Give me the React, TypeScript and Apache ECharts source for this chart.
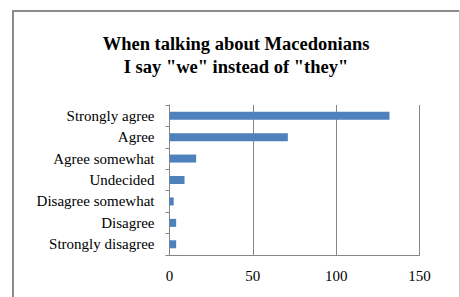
import React, { useEffect, useRef } from "react";
import * as echarts from "echarts";

const categories = [
  "Strongly agree",
  "Agree",
  "Agree somewhat",
  "Undecided",
  "Disagree somewhat",
  "Disagree",
  "Strongly disagree",
];
const values = [132, 71, 16, 9, 2.5, 4, 4];
const xTicks = [0, 50, 100, 150];

const FONT = "Liberation Serif";

export default function App() {
  const ref = useRef<HTMLDivElement>(null);
  useEffect(() => {
    document.body.style.margin = "0";
    const chart = echarts.init(ref.current!, null, { renderer: "svg" });
    chart.setOption({
      animation: false,
      backgroundColor: "#ffffff",
      title: {
        text: 'When talking about Macedonians\nI say "we" instead of "they"',
        left: 231,
        top: 27,
        textAlign: "center",
        textStyle: {
          fontFamily: FONT,
          fontSize: 18.5,
          fontWeight: "bold",
          color: "#000",
          lineHeight: 23,
        },
      },
      grid: { left: 169.5, right: 40.5, top: 105, bottom: 42, containLabel: false },
      xAxis: {
        type: "value",
        min: xTicks[0],
        max: xTicks[xTicks.length - 1],
        interval: 50,
        axisLine: { show: true, lineStyle: { color: "#868686", width: 1 } },
        axisTick: { show: false },
        splitLine: { show: true, lineStyle: { color: "#868686", width: 1 } },
        axisLabel: { fontFamily: FONT, fontSize: 15, color: "#000", margin: 13 },
      },
      yAxis: {
        type: "category",
        data: categories,
        inverse: true,
        axisLine: { show: true, lineStyle: { color: "#868686", width: 1 } },
        axisTick: { show: true, length: 4, inside: false, lineStyle: { color: "#868686" } },
        axisLabel: { fontFamily: FONT, fontSize: 15, color: "#000", margin: 15 },
      },
      series: [
        {
          type: "bar",
          data: values,
          barWidth: 8,
          itemStyle: { color: "#4f81bd" },
        },
      ],
      graphic: [
        { type: "line", shape: { x1: 13, y1: 10, x2: 13, y2: 297 }, style: { stroke: "#8c8c8c", lineWidth: 2 } },
        { type: "line", shape: { x1: 12, y1: 11, x2: 459, y2: 11 }, style: { stroke: "#8c8c8c", lineWidth: 2 } },
        { type: "line", shape: { x1: 459.5, y1: 10, x2: 459.5, y2: 297 }, style: { stroke: "#c8c8c8", lineWidth: 1 } },
      ],
    });
    return () => chart.dispose();
  }, []);
  return <div ref={ref} style={{ width: 460, height: 297 }} />;
}
